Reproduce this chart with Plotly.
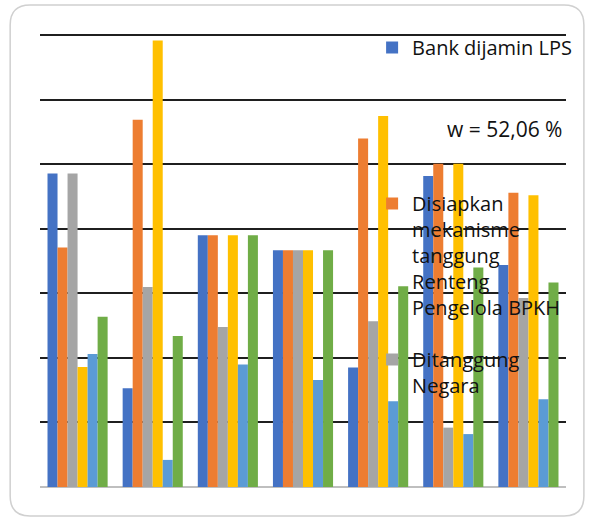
import plotly.graph_objects as go

categories = ["1", "2", "3", "4", "5", "6", "7"]
series_names = [
    "Bank dijamin LPS",
    "Disiapkan<br>mekanisme<br>tanggung<br>Renteng<br>Pengelola BPKH",
    "Ditanggung<br>Negara",
    "Series 4",
    "Series 5",
    "Series 6",
]
bank_lps = [4.86, 1.53, 3.90, 3.67, 1.85, 4.82, 3.44]
bpkh = [3.71, 5.69, 3.90, 3.67, 5.40, 5.01, 4.56]
negara = [4.86, 3.10, 2.48, 3.67, 2.57, 0.92, 2.93]
series4 = [1.86, 6.92, 3.90, 3.67, 5.75, 5.01, 4.52]
series5 = [2.06, 0.42, 1.90, 1.66, 1.33, 0.82, 1.36]
series6 = [2.64, 2.34, 3.90, 3.67, 3.11, 3.40, 3.17]
annotation_text = "w = 52,06 %"

colors = ["#4472C4", "#ED7D31", "#A5A5A5", "#FFC000", "#5B9BD5", "#70AD47"]
values = [bank_lps, bpkh, negara, series4, series5, series6]
legends = ["legend", "legend2", "legend3", None, None, None]

W, H = 589, 518
ML, MR, MT, MB = 40, 20, 34, 31
PW, PH = W - ML - MR, H - MT - MB


def px(x):
    return (x - ML) / PW


def py(y):
    return (H - MB - y) / PH


FONT = "Open Sans"
fig = go.Figure()
for name, vals, col, lg in zip(series_names, values, colors, legends):
    kw = dict(x=categories, y=vals, name=name, marker=dict(color=col, line=dict(width=0)))
    if lg:
        kw["legend"] = lg
        kw["showlegend"] = True
    else:
        kw["showlegend"] = False
    fig.add_trace(go.Bar(**kw))

leg_common = dict(
    bgcolor="rgba(0,0,0,0)",
    borderwidth=0,
    font=dict(family=FONT, size=20, color="#111111"),
    xanchor="left",
    yanchor="top",
    valign="top",
)

# rounded border
x0, y0, x1, y1, r = 10, 5, 587, 516, 20
path = (
    f"M {px(x0 + r)},{py(y0)} L {px(x1 - r)},{py(y0)} Q {px(x1)},{py(y0)} {px(x1)},{py(y0 + r)} "
    f"L {px(x1)},{py(y1 - r)} Q {px(x1)},{py(y1)} {px(x1 - r)},{py(y1)} "
    f"L {px(x0 + r)},{py(y1)} Q {px(x0)},{py(y1)} {px(x0)},{py(y1 - r)} "
    f"L {px(x0)},{py(y0 + r)} Q {px(x0)},{py(y0)} {px(x0 + r)},{py(y0)} Z"
)

fig.update_layout(
    width=W,
    height=H,
    margin=dict(l=ML, r=MR, t=MT, b=MB),
    paper_bgcolor="white",
    plot_bgcolor="white",
    barmode="group",
    bargap=0.2,
    bargroupgap=0,
    font=dict(family=FONT),
    xaxis=dict(showticklabels=False, showgrid=False, zeroline=False, showline=False, ticks=""),
    yaxis=dict(
        range=[0, 7.02],
        dtick=1,
        showticklabels=False,
        showgrid=True,
        gridcolor="#1f1f1f",
        gridwidth=2,
        zeroline=True,
        zerolinecolor="#bfbfbf",
        zerolinewidth=2,
        ticks="",
    ),
    legend=dict(x=px(374), y=py(28), **leg_common),
    legend2=dict(x=px(374), y=py(184), **leg_common),
    legend3=dict(x=px(374), y=py(340), **leg_common),
    shapes=[dict(type="path", xref="paper", yref="paper", path=path,
                 line=dict(color="#d0d0d0", width=1.5), layer="above")],
    annotations=[dict(text=annotation_text, xref="paper", yref="paper", x=px(567), y=py(129),
                      xanchor="right", yanchor="middle", showarrow=False,
                      font=dict(family=FONT, size=21, color="#111111"))],
)

fig.write_html("out.html")
